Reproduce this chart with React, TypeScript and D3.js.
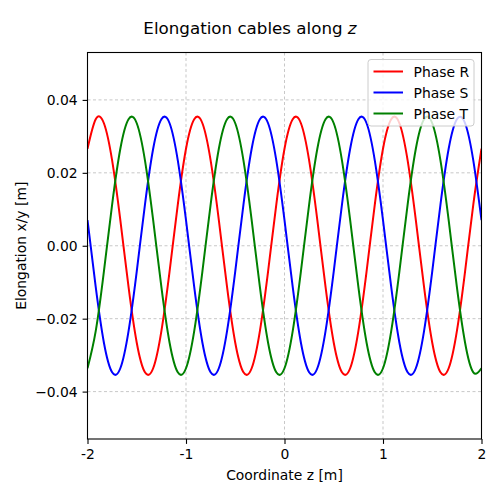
import { useEffect, useRef } from "react";
import * as d3 from "d3";

// z positions every 1/12 m from -2 to 2
const zValues = d3.range(49).map((k) => -2 + k / 12);

const phaseR = [
  0.0266, 0.0347, 0.0336, 0.0234, 0.007, -0.0113, -0.0266, -0.0347, -0.0336, -0.0234, -0.007, 0.0113,
  0.0266, 0.0347, 0.0336, 0.0234, 0.007, -0.0113, -0.0266, -0.0347, -0.0336, -0.0234, -0.007, 0.0113,
  0.0266, 0.0347, 0.0336, 0.0234, 0.007, -0.0113, -0.0266, -0.0347, -0.0336, -0.0234, -0.007, 0.0113,
  0.0266, 0.0347, 0.0336, 0.0234, 0.007, -0.0113, -0.0266, -0.0347, -0.0336, -0.0234, -0.007, 0.0113,
  0.0266,
];

const phaseS = [
  0.007, -0.0113, -0.0266, -0.0347, -0.0336, -0.0234, -0.007, 0.0113, 0.0266, 0.0347, 0.0336, 0.0234,
  0.007, -0.0113, -0.0266, -0.0347, -0.0336, -0.0234, -0.007, 0.0113, 0.0266, 0.0347, 0.0336, 0.0234,
  0.007, -0.0113, -0.0266, -0.0347, -0.0336, -0.0234, -0.007, 0.0113, 0.0266, 0.0347, 0.0336, 0.0234,
  0.007, -0.0113, -0.0266, -0.0347, -0.0336, -0.0234, -0.007, 0.0113, 0.0266, 0.0347, 0.0336, 0.0234,
  0.007,
];

const phaseT = [
  -0.0336, -0.0234, -0.007, 0.0113, 0.0266, 0.0347, 0.0336, 0.0234, 0.007, -0.0113, -0.0266, -0.0347,
  -0.0336, -0.0234, -0.007, 0.0113, 0.0266, 0.0347, 0.0336, 0.0234, 0.007, -0.0113, -0.0266, -0.0347,
  -0.0336, -0.0234, -0.007, 0.0113, 0.0266, 0.0347, 0.0336, 0.0234, 0.007, -0.0113, -0.0266, -0.0347,
  -0.0336, -0.0234, -0.007, 0.0113, 0.0266, 0.0347, 0.0336, 0.0234, 0.007, -0.0113, -0.0266, -0.0347,
  -0.0336,
];

const seriesNames = ["Phase R", "Phase S", "Phase T"];
const seriesColors = ["#ff0000", "#0000ff", "#008000"];
const xTicks = [-2, -1, 0, 1, 2];
const xTickLabels = ["-2", "-1", "0", "1", "2"];
const yTicks = [0.04, 0.02, 0, -0.02, -0.04];

export default function App() {
  const svgRef = useRef<SVGSVGElement | null>(null);

  useEffect(() => {
    if (!svgRef.current) return;
    const width = 500;
    const height = 494;
    const margin = { top: 52.5, right: 18.5, bottom: 55, left: 87.5 };
    const font = "DejaVu Sans, sans-serif";

    const svg = d3.select(svgRef.current);
    svg.selectAll("*").remove();

    svg.append("rect").attr("width", width).attr("height", height).attr("fill", "white");

    const x = d3.scaleLinear().domain([-2, 2]).range([margin.left, width - margin.right]);
    const y = d3.scaleLinear().domain([-0.053, 0.053]).range([height - margin.bottom, margin.top]);

    // grid
    const grid = svg.append("g");
    xTicks.forEach((t) => {
      grid
        .append("line")
        .attr("x1", x(t))
        .attr("x2", x(t))
        .attr("y1", margin.top)
        .attr("y2", height - margin.bottom)
        .attr("stroke", "#b0b0b0")
        .attr("stroke-width", 0.7)
        .attr("stroke-dasharray", "3,2.5");
    });
    yTicks.forEach((t) => {
      grid
        .append("line")
        .attr("x1", margin.left)
        .attr("x2", width - margin.right)
        .attr("y1", y(t))
        .attr("y2", y(t))
        .attr("stroke", "#b0b0b0")
        .attr("stroke-width", 0.7)
        .attr("stroke-dasharray", "3,2.5");
    });

    // curves
    const clipId = "plot-clip";
    svg
      .append("defs")
      .append("clipPath")
      .attr("id", clipId)
      .append("rect")
      .attr("x", margin.left)
      .attr("y", margin.top)
      .attr("width", width - margin.left - margin.right)
      .attr("height", height - margin.top - margin.bottom);

    const line = d3
      .line<number>()
      .x((_, i) => x(zValues[i]))
      .y((d) => y(d))
      .curve(d3.curveNatural);

    const plot = svg.append("g").attr("clip-path", `url(#${clipId})`);
    [phaseR, phaseS, phaseT].forEach((vals, i) => {
      plot
        .append("path")
        .attr("d", line(vals) ?? "")
        .attr("fill", "none")
        .attr("stroke", seriesColors[i])
        .attr("stroke-width", 2);
    });

    // axes
    const xAxis = d3
      .axisBottom(x)
      .tickValues(xTicks)
      .tickFormat((_, i) => xTickLabels[i])
      .tickSize(4.9)
      .tickPadding(4.9);
    const yAxis = d3
      .axisLeft(y)
      .tickValues(yTicks)
      .tickFormat((d) => d3.format(".2f")(d as number).replace("-", "\u2212"))
      .tickSize(4.9)
      .tickPadding(4.9);

    const gx = svg
      .append("g")
      .attr("transform", `translate(0,${height - margin.bottom})`)
      .call(xAxis);
    const gy = svg.append("g").attr("transform", `translate(${margin.left},0)`).call(yAxis);
    [gx, gy].forEach((g) => {
      g.select(".domain").remove();
      g.selectAll("line").attr("stroke", "black").attr("stroke-width", 1.1);
      g.selectAll("text").attr("font-family", font).attr("font-size", 13.9).attr("fill", "black");
    });

    // frame
    svg
      .append("rect")
      .attr("x", margin.left)
      .attr("y", margin.top)
      .attr("width", width - margin.left - margin.right)
      .attr("height", height - margin.top - margin.bottom)
      .attr("fill", "none")
      .attr("stroke", "black")
      .attr("stroke-width", 1.1);

    // labels
    svg
      .append("text")
      .attr("x", (margin.left + width - margin.right) / 2)
      .attr("y", 480)
      .attr("text-anchor", "middle")
      .attr("font-family", font)
      .attr("font-size", 13.9)
      .text("Coordinate z [m]");

    svg
      .append("text")
      .attr("transform", "rotate(-90)")
      .attr("x", -(margin.top + height - margin.bottom) / 2)
      .attr("y", 26)
      .attr("text-anchor", "middle")
      .attr("font-family", font)
      .attr("font-size", 13.9)
      .text("Elongation x/y [m]");

    const title = svg
      .append("text")
      .attr("x", width / 2)
      .attr("y", 34)
      .attr("text-anchor", "middle")
      .attr("font-family", font)
      .attr("font-size", 16.7);
    title.append("tspan").text("Elongation cables along ");
    title.append("tspan").attr("font-style", "italic").text("z");

    // legend
    const legend = svg.append("g").attr("transform", "translate(368,59.5)");
    legend
      .append("rect")
      .attr("width", 106)
      .attr("height", 66.5)
      .attr("rx", 3)
      .attr("fill", "white")
      .attr("fill-opacity", 0.8)
      .attr("stroke", "#cccccc")
      .attr("stroke-width", 1);
    seriesNames.forEach((name, i) => {
      const row = legend.append("g").attr("transform", `translate(0,${12 + i * 21})`);
      row
        .append("line")
        .attr("x1", 5.5)
        .attr("x2", 35)
        .attr("stroke", seriesColors[i])
        .attr("stroke-width", 2);
      row
        .append("text")
        .attr("x", 45.5)
        .attr("y", 5)
        .attr("font-family", font)
        .attr("font-size", 13.9)
        .text(name);
    });
  }, []);

  return (
    <div style={{ position: "absolute", left: 0, top: 0 }}>
      <svg ref={svgRef} width={500} height={494} style={{ display: "block" }}></svg>
    </div>
  );
}
